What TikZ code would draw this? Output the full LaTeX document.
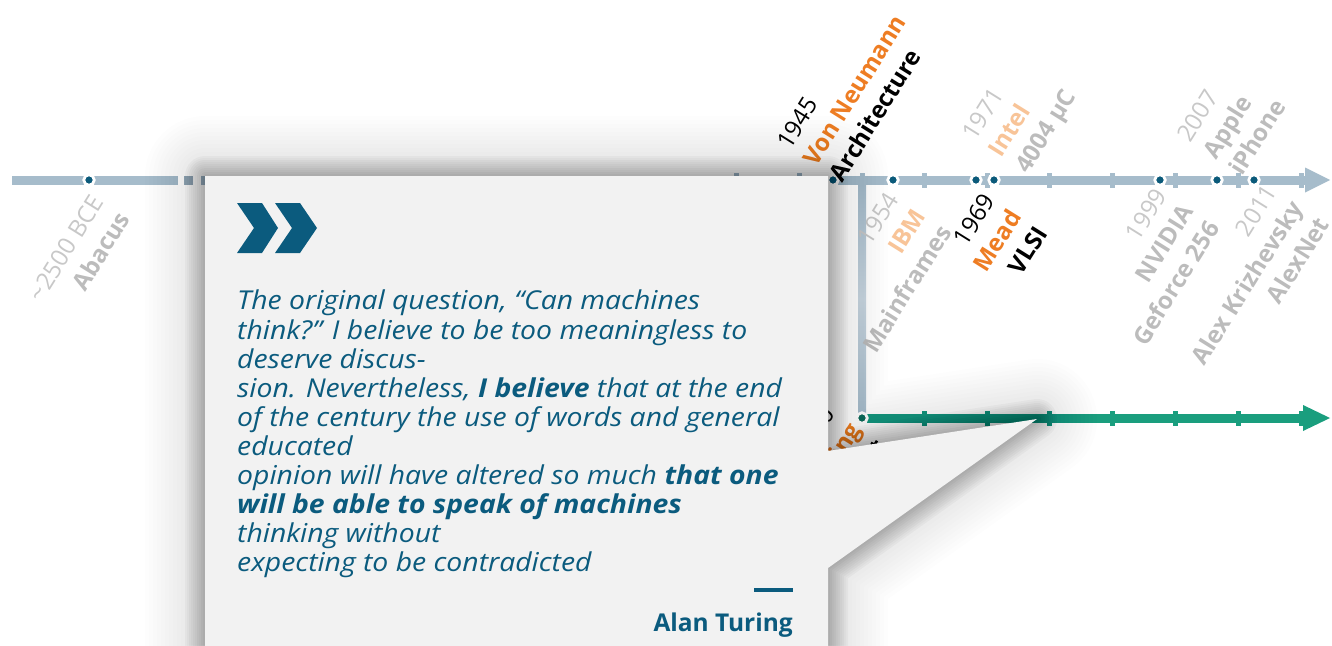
\documentclass[tikz,border=0pt]{standalone}
\usepackage{fontspec}
\setmainfont{Open Sans}
\newfontfamily\quotefont{Open Sans}[FakeStretch=1.09]
\definecolor{tlblue}{RGB}{166,188,203}
\definecolor{tlpale}{RGB}{202,215,225}
\definecolor{tlgreen}{RGB}{26,158,126}
\definecolor{dotblue}{RGB}{11,90,122}
\definecolor{dotgreen}{RGB}{18,108,92}
\definecolor{qblue}{RGB}{11,91,126}
\definecolor{fadegray}{RGB}{200,200,200}
\definecolor{namegray}{RGB}{188,188,188}
\definecolor{fadeorange}{RGB}{248,196,152}
\definecolor{orng}{RGB}{238,125,35}
\definecolor{boxgray}{RGB}{242,242,242}
\tikzset{
  tlline/.style={line width=9pt, color=tlblue},
  grline/.style={line width=9pt, color=tlgreen},
  tickmark/.style={fill=tlblue},
  gtickmark/.style={fill=tlgreen},
  evdot/.style={circle, fill=dotblue, draw=white, line width=2.8pt, minimum size=10.5pt, inner sep=0pt},
  gdot/.style={evdot, fill=dotgreen},
  labup/.style={rotate=58, anchor=south west, align=left, inner sep=0pt, font=\fontsize{24}{31}\selectfont},
  labdn/.style={rotate=58, anchor=north east, align=right, inner sep=0pt, font=\fontsize{24}{31}\selectfont},
  qtext/.style={text=qblue, inner sep=0pt},
}
\begin{document}
\begin{tikzpicture}[x=1pt,y=-1pt]
\useasboundingbox (0,0) rectangle (1332,645);
\fill[white] (0,0) rectangle (1332,645);

% ---- top timeline
\coordinate (t0) at (12,180);
\coordinate (t1) at (178,180);
\coordinate (t2) at (201,180);
\coordinate (tend) at (1306,180);
\coordinate (ttip) at (1330,180);
\draw[tlline] (t0) -- (t1);
\fill[tlblue!92!black] (184,175.5) rectangle (193,184.5);
\draw[tlline] (t2) -- (tend);
\fill[tlblue] (1305,167.5) -- (ttip) -- (1305,192.5) -- cycle;
\foreach \x in {736,799,862,924,987,1049,1112,1175,1238,1301}
  \fill[tickmark] (\x-2.5,172.5) rectangle (\x+2.5,187.5);

% ---- vertical connector
\coordinate (vtop) at (862,180);
\coordinate (vbot) at (862,418);
\shade[top color=tlblue, bottom color=tlblue!90!tlpale, middle color=tlpale] (858,184) rectangle (866,414);

% ---- green timeline
\coordinate (gend) at (1304,418);
\coordinate (gtip) at (1330,418);
\draw[grline] (vbot) -- (gend);
\fill[tlgreen] (1303,405) -- (gtip) -- (1303,431) -- cycle;
\foreach \x in {924,987,1049,1112,1175,1238,1301}
  \fill[gtickmark] (\x-2.5,410.5) rectangle (\x+2.5,425.5);

% ---- event dots
\node[evdot] (dabacus) at (89,180) {};
\node[evdot] (d1945) at (833,180) {};
\node[evdot] (d1954) at (893,180) {};
\node[evdot] (d1969) at (976,180) {};
\node[evdot] (d1971) at (994,180) {};
\node[evdot] (d1999) at (1160,180) {};
\node[evdot] (d2007) at (1217,180) {};
\node[evdot] (d2011) at (1254,180) {};
\node[gdot] (d1950) at (862,418) {};

% ---- labels above the line
\node[labup] (l1945) at (843,184) {\color{black}1945\\\color{orng}\bfseries Von Neumann\\\color{black}\bfseries Architecture};
\node[labup] (l1971) at (1033,178) {\color{fadegray}1971\\\color{fadeorange}\bfseries Intel\\\color{namegray}\bfseries 4004 µC};
\node[labup] (l2007) at (1243,177) {\color{fadegray}2007\\\color{namegray}\bfseries Apple\\\color{namegray}\bfseries iPhone};

% ---- labels below the line
\node[labdn] (labacus) at (90,193) {\color{fadegray}\textasciitilde 2500 BCE\\\color{namegray}\bfseries Abacus};
\node[labdn] (l1954) at (885,190) {\color{fadegray}1954\\\color{fadeorange}\bfseries IBM\\\color{namegray}\bfseries Mainframes};
\node[labdn] (l1969) at (981,191) {\color{black}1969\\\color{orng}\bfseries Mead\\\color{black}\bfseries VLSI};
\node[labdn] (l1999) at (1153,186) {\color{fadegray}1999\\\color{namegray}\bfseries NVIDIA\\\color{namegray}\bfseries Geforce 256};
\node[labdn] (l2011) at (1263,182) {\color{fadegray}2011\\\color{namegray}\bfseries Alex Krizhevsky\\\color{namegray}\bfseries AlexNet};
\node[labdn] (l1950) at (821,404) {\color{black}1950\\\color{orng}\bfseries Alan Turing\\\color{black}\bfseries Turing Test};

% ---- callout shadow (wide faint part + narrow darker part)
\foreach \i in {1,...,15}
  \draw[black, opacity=0.009, line width=\i*8pt, line join=round]
    (205,176) -- (828,176) -- (828,451) -- (1037,419) -- (828,568) -- (828,700) -- (205,700) -- cycle;
\foreach \i in {1,...,10}
  \draw[black, opacity=0.022, line width=\i*4pt, line join=round]
    (205,176) -- (828,176) -- (828,451) -- (1037,419) -- (828,568) -- (828,700) -- (205,700) -- cycle;
% ---- callout box
\coordinate (bnw) at (205,176);
\coordinate (bne) at (828,176);
\coordinate (ptip) at (1037,419);
\fill[boxgray] (bnw) -- (bne) -- (828,451) -- (ptip) -- (828,568) -- (828,700) -- (205,700) -- cycle;

% ---- chevrons
\fill[qblue] (237,203) -- (262,203) -- (278,228) -- (262,253) -- (237,253) -- (254,228) -- cycle;
\fill[qblue] (275,203) -- (300,203) -- (317,228) -- (300,253) -- (275,253) -- (292,228) -- cycle;

% ---- quote
\node[qtext, anchor=north west, align=left, font=\quotefont\fontsize{26}{29.1}\selectfont\itshape] (quote) at (237,290)
 {The original question, “Can machines\\
  think?” I believe to be too meaningless to\\
  deserve discus-\\
  sion. Nevertheless, \textbf{I believe} that at the end\\
  of the century the use of words and general\\
  educated\\
  opinion will have altered so much \textbf{that one}\\
  \textbf{will be able to speak of machines}\\
  thinking without\\
  expecting to be contradicted};
\coordinate (dashl) at (754,590);
\coordinate (dashr) at (793,590);
\draw[qblue, line width=4pt] (dashl) -- (dashr);
\node[qtext, anchor=base east, font=\fontsize{24.5}{30}\selectfont\bfseries] (author) at (793,631) {Alan Turing};
\end{tikzpicture}
\end{document}
